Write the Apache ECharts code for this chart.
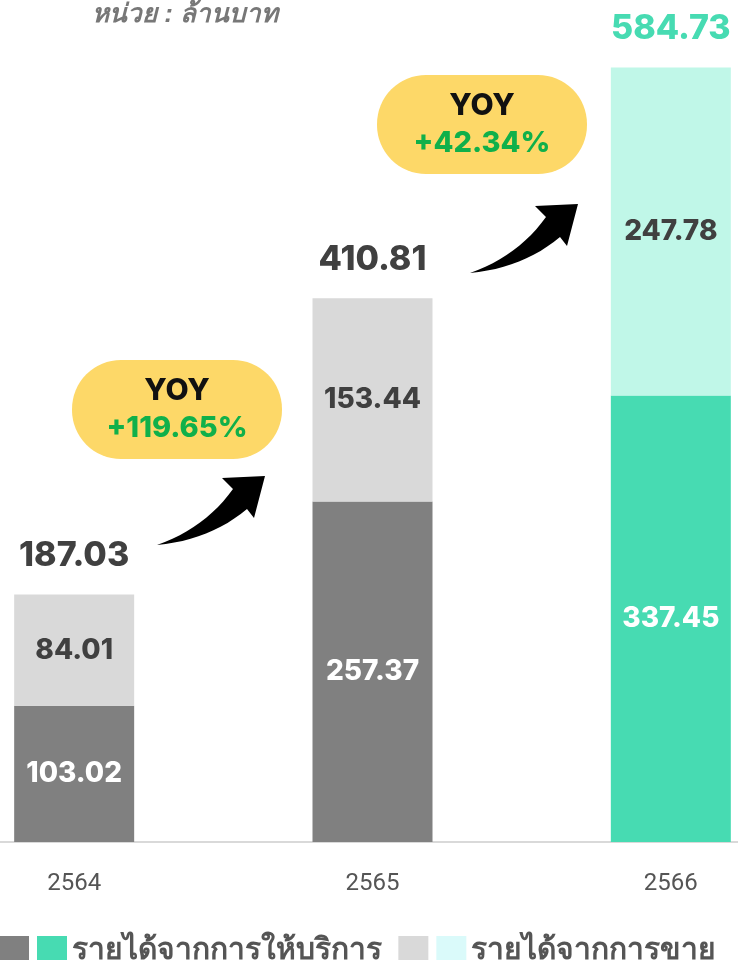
<!DOCTYPE html>
<html>
<head>
<meta charset="utf-8">
<script src="https://cdn.jsdelivr.net/npm/echarts@6/dist/echarts.min.js"></script>
<style>
  html, body { margin: 0; padding: 0; background: #fff; }
  #main { width: 738px; height: 960px; }
</style>
</head>
<body>
<div id="main"></div>
<script>
// ข้อมูล (หน่วย : ล้านบาท)
const years = ['2564', '2565', '2566'];
const serviceRevenue = [103.02, 257.37, 337.45]; // รายได้จากการให้บริการ
const salesRevenue = [84.01, 153.44, 247.78];    // รายได้จากการขาย
const totalRevenue = [187.03, 410.81, 584.73];   // รวม (ตามที่แสดงในภาพ)
const yoyLabels = ['+119.65%', '+42.34%'];

const NUM_FONT = 'Inter, "DejaVu Sans", sans-serif';
const lastIdx = years.length - 1;

// ปีล่าสุดใช้สีเขียว ปีก่อนหน้าใช้สีเทา
const pick = (arr, latest) => arr.map((v, i) => (latest ? (i === lastIdx ? v : '-') : (i === lastIdx ? '-' : v)));

const chart = echarts.init(document.getElementById('main'));

const innerLabel = (color) => ({
  show: true,
  position: 'inside',
  color: color,
  fontFamily: NUM_FONT,
  fontWeight: 800,
  fontSize: 28,
  formatter: (p) => p.value.toFixed(2)
});

// ลูกศรโค้ง (รูปทรงตกแต่ง)
function quad(p0, c, p1, n) {
  const pts = [];
  for (let i = 0; i <= n; i++) {
    const t = i / n;
    pts.push([
      (1 - t) * (1 - t) * p0[0] + 2 * (1 - t) * t * c[0] + t * t * p1[0],
      (1 - t) * (1 - t) * p0[1] + 2 * (1 - t) * t * c[1] + t * t * p1[1]
    ]);
  }
  return pts;
}
const arrowPoints = [].concat(
  quad([157, 545], [205, 528], [233, 489], 12),
  [[222, 478], [265, 476], [254, 518]],
  quad([247, 509], [210, 540], [157, 545], 12)
);

function yoyBubble(x, y, text) {
  return {
    type: 'group',
    x: x,
    y: y,
    children: [
      { type: 'rect', shape: { x: 0, y: 0, width: 210, height: 99, r: 49 }, style: { fill: '#fdd868' } },
      { type: 'text', x: 105, y: 31, style: { text: 'YOY', fill: '#111', font: '800 30px ' + NUM_FONT, align: 'center', verticalAlign: 'middle' } },
      { type: 'text', x: 105, y: 68, style: { text: text, fill: '#10b04a', font: '800 29px ' + NUM_FONT, align: 'center', verticalAlign: 'middle' } }
    ]
  };
}

chart.setOption({
  animation: false,
  backgroundColor: '#fff',
  grid: { left: -75, right: -82, top: 48, bottom: 118, outerBoundsMode: 'none', containLabel: false },
  xAxis: {
    type: 'category',
    data: years,
    axisLine: { lineStyle: { color: '#d9d9d9', width: 2 } },
    axisTick: { show: false },
    axisLabel: { margin: 30, fontSize: 24, color: '#555', fontFamily: 'Roboto, sans-serif' }
  },
  yAxis: { type: 'value', min: 0, max: 600, show: false, splitLine: { show: false } },
  legend: {
    left: -6,
    top: 931,
    itemWidth: 30,
    itemHeight: 30,
    itemGap: 8,
    icon: 'rect',
    selectedMode: false,
    data: ['s1', 'รายได้จากการให้บริการ', 's2', 'รายได้จากการขาย'],
    formatter: (name) => (name === 's1' || name === 's2' ? '' : (name === 'รายได้จากการให้บริการ' ? name + ' ' : name)),
    textStyle: { fontSize: 30, fontWeight: 'bold', color: '#555' }
  },
  series: [
    {
      name: 's1', type: 'bar', stack: 'total', barWidth: 120,
      data: pick(serviceRevenue, false),
      itemStyle: { color: '#808080' },
      label: innerLabel('#fff')
    },
    {
      name: 'รายได้จากการให้บริการ', type: 'bar', stack: 'total', barWidth: 120,
      data: pick(serviceRevenue, true),
      itemStyle: { color: '#47dbb2' },
      label: innerLabel('#fff')
    },
    {
      name: 's2', type: 'bar', stack: 'total', barWidth: 120,
      data: pick(salesRevenue, false),
      itemStyle: { color: '#d9d9d9' },
      label: innerLabel('#404040')
    },
    {
      name: 'รายได้จากการขาย', type: 'bar', stack: 'total', barWidth: 120,
      data: pick(salesRevenue, true).map((v) => (v === '-' ? v : { value: v, itemStyle: { color: '#c0f7e8' } })),
      itemStyle: { color: '#dafafa' },
      label: innerLabel('#404040')
    },
    {
      name: 'total', type: 'scatter',
      symbolSize: 0,
      silent: true,
      itemStyle: { opacity: 1 },
      data: totalRevenue.map((v, i) => ({
        value: v,
        label: {
          show: true,
          position: 'top',
          distance: 22,
          color: i === lastIdx ? '#47dbb2' : '#404040',
          fontFamily: NUM_FONT,
          fontWeight: 800,
          fontSize: 34,
          formatter: (p) => p.value.toFixed(2)
        }
      }))
    }
  ],
  graphic: [
    {
      type: 'text', x: 92, y: 2,
      style: { text: 'หน่วย : ล้านบาท', fill: '#777', font: 'italic bold 26px sans-serif' }
    },
    yoyBubble(72, 360, yoyLabels[0]),
    yoyBubble(377, 75, yoyLabels[1]),
    { type: 'polygon', shape: { points: arrowPoints }, style: { fill: '#000' } },
    { type: 'polygon', x: 313, y: -272, shape: { points: arrowPoints }, style: { fill: '#000' } }
  ]
});
</script>
</body>
</html>
